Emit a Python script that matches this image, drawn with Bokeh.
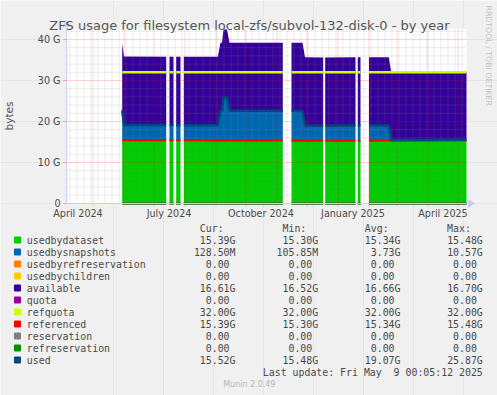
import math
import pandas as pd
from bokeh.plotting import figure
from bokeh.models import FixedTicker, Range1d, LinearAxis
from bokeh.core.properties import value
from bokeh.embed import file_html
from bokeh.resources import INLINE

nan = float("nan")

# ---------------- data (values in G, x = days since 2024-04-01) ----------------
ORIGIN = pd.Timestamp("2024-04-01")

day = [59.2, 61.0, 103.2, nan, 106.5, 110.5, nan, 113.2, 117.5, nan,
       120.8, 154.8, 157.5, 159.0, 160.5, 164.0, 166.5, 219.8, nan,
       228.5, 239.5, 242.0, 260.2, nan, 262.2, 292.5, nan, 294.8, 297.5, nan,
       306.0, 325.8, 328.2, 403.5]

usedbydataset = [15.45, 15.45, 15.44, nan, 15.42, 15.42, nan, 15.40, 15.40, nan,
                 15.40, 15.38, 15.38, 15.38, 15.38, 15.36, 15.36, 15.34, nan,
                 15.32, 15.31, 15.31, 15.30, nan, 15.30, 15.31, nan, 15.31, 15.32, nan,
                 15.33, 15.35, 15.36, 15.39]

usedbysnapshots = [7.30, 3.70, 3.70, nan, 3.70, 3.70, nan, 3.70, 3.70, nan,
                   3.70, 3.72, 7.22, 7.22, 10.50, 10.50, 7.24, 7.26, nan,
                   7.28, 7.28, 3.68, 3.68, nan, 3.68, 3.69, nan, 3.69, 3.69, nan,
                   3.69, 3.70, 0.13, 0.1285]

available = [16.30, 16.68, 16.68, nan, 16.68, 16.68, nan, 16.68, 16.68, nan,
             16.68, 16.68, 16.62, 16.62, 16.56, 16.56, 16.62, 16.62, nan,
             16.60, 16.60, 16.66, 16.66, nan, 16.66, 16.66, nan, 16.66, 16.66, nan,
             16.66, 16.65, 16.62, 16.61]

used = [22.75, 19.15, 19.14, nan, 19.12, 19.12, nan, 19.10, 19.10, nan,
        19.10, 19.10, 22.60, 22.60, 25.88, 25.86, 22.60, 22.60, nan,
        22.60, 22.59, 18.99, 18.98, nan, 18.98, 19.00, nan, 19.00, 19.01, nan,
        19.02, 19.05, 15.49, 15.52]

referenced = list(usedbydataset)


def const(v):
    return [v if d == d else nan for d in day]


usedbyrefreservation = const(0.0)
usedbychildren = const(0.0)
quota = const(0.0)
refquota = const(32.0)
reservation = const(0.0)
refreservation = const(0.0)

y_ticks = [0, 10, 20, 30, 40]
y_tick_labels = ["0", "10 G", "20 G", "30 G", "40 G"]
x_label_months = ["2024-04", "2024-07", "2024-10", "2025-01", "2025-04"]
x_tick_labels = ["April 2024", "July 2024", "October 2024", "January 2025", "April 2025"]

legend_names = ["usedbydataset", "usedbysnapshots", "usedbyrefreservation", "usedbychildren",
                "available", "quota", "refquota", "referenced", "reservation",
                "refreservation", "used"]
legend_colors = ["#00CC00", "#0066B3", "#FF8000", "#FFCC00", "#330099", "#990099",
                 "#CCFF00", "#FF0000", "#808080", "#008F00", "#00487D"]
cur_vals = ["15.39G", "128.50M", "0.00", "0.00", "16.61G", "0.00", "32.00G", "15.39G", "0.00", "0.00", "15.52G"]
min_vals = ["15.30G", "105.85M", "0.00", "0.00", "16.52G", "0.00", "32.00G", "15.30G", "0.00", "0.00", "15.48G"]
avg_vals = ["15.34G", "3.73G", "0.00", "0.00", "16.66G", "0.00", "32.00G", "15.34G", "0.00", "0.00", "19.07G"]
max_vals = ["15.48G", "10.57G", "0.00", "0.00", "16.70G", "0.00", "32.00G", "15.48G", "0.00", "0.00", "25.87G"]
headers = ["Cur:", "Min:", "Avg:", "Max:"]
title_text = "ZFS usage for filesystem local-zfs/subvol-132-disk-0 - by year"
last_update = "Last update: Fri May\u00a0 9 00:05:12 2025"
version_text = "Munin 2.0.49"
watermark = "RRDTOOL / TOBI OETIKER"

# ---------------- geometry: the whole canvas is the frame, 1 px = 1 day, 4.1 px = 1 G ----------------
W, H = 497, 395
X0PX = 62.5      # page x of day 0
Y0PX = 203.0     # page y of 0 bytes
PXG = 4.1        # pixels per G
X_START, X_END = 3.5, 403.5     # graph time window (days)
Y_TOP = 42.68                    # graph upper limit (G)


def dx(px):
    return px - X0PX


def dy(py):
    return (Y0PX - py) / PXG


BG = "#F0F0F0"
TXT = "#4A4A4A"
AXIS_COLOR = "#C6CEF2"

p = figure(width=W, height=H, output_backend="svg", toolbar_location=None,
           x_range=Range1d(dx(0), dx(W)), y_range=Range1d(dy(H), dy(0)),
           x_axis_location=None, y_axis_location=None,
           min_border=0, min_border_left=0, min_border_right=0,
           min_border_top=0, min_border_bottom=0)
p.title.visible = False
p.background_fill_color = BG
p.border_fill_color = BG
p.outline_line_color = None

# white graph canvas
p.quad(left=[X_START], right=[X_END], bottom=[0], top=[Y_TOP], fill_color="#FFFFFF", line_color=None)

# ---------------- data drawing ----------------
segs, cur = [], []
for i, d in enumerate(day):
    if d != d:
        if cur:
            segs.append(cur)
            cur = []
    else:
        cur.append(i)
if cur:
    segs.append(cur)

stack_series = [(usedbydataset, "#00CC00"), (usedbysnapshots, "#0066B3"),
                (usedbyrefreservation, "#FF8000"), (usedbychildren, "#FFCC00"),
                (available, "#330099")]
line_series = [(quota, "#990099", 2), (refquota, "#CCFF00", 2.5), (referenced, "#FF0000", 2),
               (reservation, "#808080", 2), (refreservation, "#008F00", 2), (used, "#00487D", 2.5)]

for seg in segs:
    xs = [day[i] for i in seg]
    base = [0.0] * len(seg)
    for vals, color in stack_series:
        top = [b + vals[i] for b, i in zip(base, seg)]
        if any(vals[i] > 0 for i in seg):
            p.varea(x=xs, y1=base, y2=top, fill_color=color, fill_alpha=1.0)
        base = top

# ---------------- grid (rrdtool style, dotted, drawn over the areas) ----------------
month_starts = [(d - ORIGIN).days for d in pd.date_range("2024-04-01", "2025-05-01", freq="MS")]
week_starts = [(d - ORIGIN).days for d in pd.date_range("2024-04-01", "2025-05-12", freq="7D")]
month_starts = [m for m in month_starts if X_START <= m <= X_END]
week_starts = [w for w in week_starts if X_START <= w <= X_END and w not in month_starts]
minor_y = [v for v in range(2, 43, 2) if v not in y_ticks]
major_y = [v for v in y_ticks if v > 0]

p.segment(x0=week_starts, y0=[0] * len(week_starts), x1=week_starts, y1=[Y_TOP] * len(week_starts),
          line_color="#909090", line_alpha=0.35, line_dash="1 1", line_width=1)
p.segment(x0=[X_START] * len(minor_y), y0=minor_y, x1=[X_END] * len(minor_y), y1=minor_y,
          line_color="#909090", line_alpha=0.35, line_dash="1 1", line_width=1)
p.segment(x0=month_starts, y0=[dy(Y0PX + 3)] * len(month_starts), x1=month_starts,
          y1=[Y_TOP] * len(month_starts),
          line_color="#FF0000", line_alpha=0.35, line_dash="1 1", line_width=1)
p.segment(x0=[dx(X0PX + X_START - 3)] * len(major_y), y0=major_y, x1=[X_END] * len(major_y), y1=major_y,
          line_color="#FF0000", line_alpha=0.35, line_dash="1 1", line_width=1)

for vals, color, w in line_series:
    for seg in segs:
        p.line(x=[day[i] for i in seg], y=[vals[i] for i in seg], line_color=color, line_width=w)

# ---------------- axes (fixed at the graph edges) ----------------
x_tick_pos = [(pd.Timestamp(m + "-01") - ORIGIN).days + 15 for m in x_label_months]
xaxis = LinearAxis(fixed_location=0, bounds=(X_START, X_END), ticker=FixedTicker(ticks=x_tick_pos),
                   major_label_overrides=dict(zip(x_tick_pos, x_tick_labels)))
yaxis = LinearAxis(fixed_location=X_START, bounds=(0, Y_TOP), ticker=FixedTicker(ticks=y_ticks),
                   major_label_overrides=dict(zip(y_ticks, y_tick_labels)))
for ax in (xaxis, yaxis):
    ax.axis_line_color = AXIS_COLOR
    ax.major_label_text_font = "DejaVu Sans"
    ax.major_label_text_font_size = "9.6px"
    ax.major_label_text_color = TXT
    ax.minor_tick_line_color = None
xaxis.major_tick_line_color = None
xaxis.major_tick_out = 0
xaxis.major_tick_in = 0
xaxis.major_label_standoff = 4
yaxis.major_tick_in = 0
yaxis.major_tick_out = 3
yaxis.major_tick_line_color = "#FF9999"
yaxis.major_label_standoff = 3
yaxis.axis_label = "bytes"
yaxis.axis_label_text_font = "DejaVu Sans"
yaxis.axis_label_text_font_size = "10.5px"
yaxis.axis_label_text_font_style = "normal"
yaxis.axis_label_text_color = "#555555"
yaxis.axis_label_standoff = 20
p.add_layout(xaxis, "below")
p.add_layout(yaxis, "left")

# axis arrows
p.scatter(x=[dx(X0PX + X_END + 4)], y=[0], marker="triangle", size=7, angle=-math.pi / 2,
          fill_color=AXIS_COLOR, line_color=AXIS_COLOR)
p.scatter(x=[X_START], y=[dy(Y0PX - Y_TOP * PXG - 4)], marker="triangle", size=7,
          fill_color=AXIS_COLOR, line_color=AXIS_COLOR)

# ---------------- texts ----------------
SANS = value("DejaVu Sans")
MONO = value("DejaVu Sans Mono")
p.text(x=[dx(249)], y=[dy(24.5)], text=[title_text], text_font=SANS, text_font_size="13px",
       text_color="#555555", text_align="center", text_baseline="alphabetic")
p.text(x=[dx(487.7)], y=[dy(5)], text=[watermark], text_font=SANS, text_font_size="7.8px",
       text_color="#C4C4C4", text_align="left", text_baseline="middle", angle=-math.pi / 2)

CW = 5.96
col_right = [235.0, 317.7, 400.0, 482.3]
ROW0, ROWH = 239.5, 12.0
HDR_Y = 227.7
mono_kw = dict(text_font=MONO, text_font_size="9.9px", text_color=TXT, text_baseline="middle")

p.text(x=[dx(c - 2 * CW) for c in col_right], y=[dy(HDR_Y)] * 4, text=headers, text_align="right", **mono_kw)
row_y = [dy(ROW0 + r * ROWH) for r in range(len(legend_names))]
p.scatter(x=[dx(17)] * len(row_y), y=row_y, marker="square", size=6,
          fill_color=legend_colors, line_color=legend_colors)
p.text(x=[dx(26.3)] * len(row_y), y=row_y, text=legend_names, text_align="left", **mono_kw)
for vals, cr in zip((cur_vals, min_vals, avg_vals, max_vals), col_right):
    xs = [dx(cr - (0 if v[-1].isalpha() else CW)) for v in vals]
    p.text(x=xs, y=row_y, text=vals, text_align="right", **mono_kw)
p.text(x=[dx(col_right[-1])], y=[dy(ROW0 + 11 * ROWH)], text=[last_update], text_align="right", **mono_kw)
p.text(x=[dx(248.8)], y=[dy(384)], text=[version_text], text_font=SANS, text_font_size="8px",
       text_color="#B8B8B8", text_align="center", text_baseline="middle")

open("out.html", "w").write(file_html(p, INLINE))
